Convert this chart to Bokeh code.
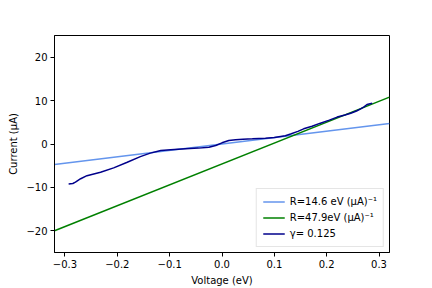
from bokeh.plotting import figure
from bokeh.models import FixedTicker, Range1d, Legend, LegendItem
from bokeh.embed import file_html
from bokeh.resources import INLINE

# Data
line_x = [-0.32, 0.32]
fit1_y = [-4.7, 4.7]      # R=14.6
fit2_y = [-20.0, 10.8]    # R=47.9

curve_v = [-0.293, -0.285, -0.280, -0.270, -0.258, -0.245, -0.232, -0.207, -0.181, -0.156,
           -0.137, -0.117, -0.098, -0.070, -0.045, -0.025, -0.012, 0.000, 0.013, 0.026,
           0.040, 0.058, 0.083, 0.100, 0.121, 0.131, 0.145, 0.156, 0.172, 0.188, 0.205,
           0.220, 0.235, 0.246, 0.257, 0.265, 0.272, 0.277, 0.287]
curve_i = [-9.2, -9.1, -8.8, -8.0, -7.3, -6.9, -6.5, -5.5, -4.2, -2.9,
           -2.1, -1.5, -1.3, -1.1, -0.95, -0.75, -0.35, 0.27, 0.8, 1.0,
           1.1, 1.2, 1.35, 1.5, 1.9, 2.3, 2.9, 3.5, 4.1, 4.8, 5.5,
           6.2, 6.7, 7.1, 7.6, 8.1, 8.6, 9.1, 9.4]

x_ticks = [-0.3, -0.2, -0.1, 0.0, 0.1, 0.2, 0.3]
y_ticks = [-20, -10, 0, 10, 20]

legend_labels = ["R=14.6 eV (\u03bcA)\u207b\u00b9", "R=47.9eV (\u03bcA)\u207b\u00b9", "\u03b3= 0.125"]

FONT = "DejaVu Sans"

p = figure(output_backend="svg", toolbar_location=None,
           frame_width=335, frame_height=217,
           min_border_left=54, min_border_top=35, min_border_right=26, min_border_bottom=0,
           x_range=Range1d(-0.32, 0.32), y_range=Range1d(-25, 25))

r1 = p.line(line_x, fit1_y, line_color="cornflowerblue", line_width=1.5)
r2 = p.line(line_x, fit2_y, line_color="green", line_width=1.5)
r3 = p.line(curve_v, curve_i, line_color="darkblue", line_width=1.5)

p.xgrid.visible = False
p.ygrid.visible = False
p.outline_line_color = "black"
p.outline_line_alpha = 1.0
p.outline_line_width = 1

for ax, ticks, fmt in ((p.xaxis[0], x_ticks, "{:.1f}"), (p.yaxis[0], y_ticks, "{:d}")):
    ax.ticker = FixedTicker(ticks=ticks)
    ax.major_label_overrides = {t: fmt.format(t).replace("-", "\u2212") for t in ticks}
    ax.major_tick_in = 0
    ax.major_tick_out = 4
    ax.minor_tick_line_color = None
    ax.axis_line_color = "black"
    ax.major_tick_line_color = "black"
    ax.major_label_text_font = FONT
    ax.major_label_text_font_size = "10px"
    ax.major_label_text_color = "black"
    ax.axis_label_text_font = FONT
    ax.axis_label_text_font_size = "10px"
    ax.axis_label_text_font_style = "normal"
    ax.axis_label_text_color = "black"
    ax.major_label_standoff = 3

p.xaxis.axis_label = "Voltage (eV)"
p.yaxis.axis_label = "Current (\u03bcA)"
p.xaxis.axis_label_standoff = 4
p.yaxis.axis_label_standoff = 4

legend = Legend(items=[LegendItem(label=legend_labels[0], renderers=[r1]),
                       LegendItem(label=legend_labels[1], renderers=[r2]),
                       LegendItem(label=legend_labels[2], renderers=[r3])],
                location="bottom_right")
legend.margin = 5
legend.padding = 6
legend.spacing = 3
legend.label_text_font = FONT
legend.label_text_font_size = "10px"
legend.label_text_color = "black"
legend.label_height = 13
legend.glyph_height = 13
legend.glyph_width = 22
legend.border_line_color = "#cccccc"
legend.border_line_width = 1
legend.background_fill_alpha = 0.8
p.add_layout(legend)

open("out.html", "w").write(file_html(p, INLINE))
